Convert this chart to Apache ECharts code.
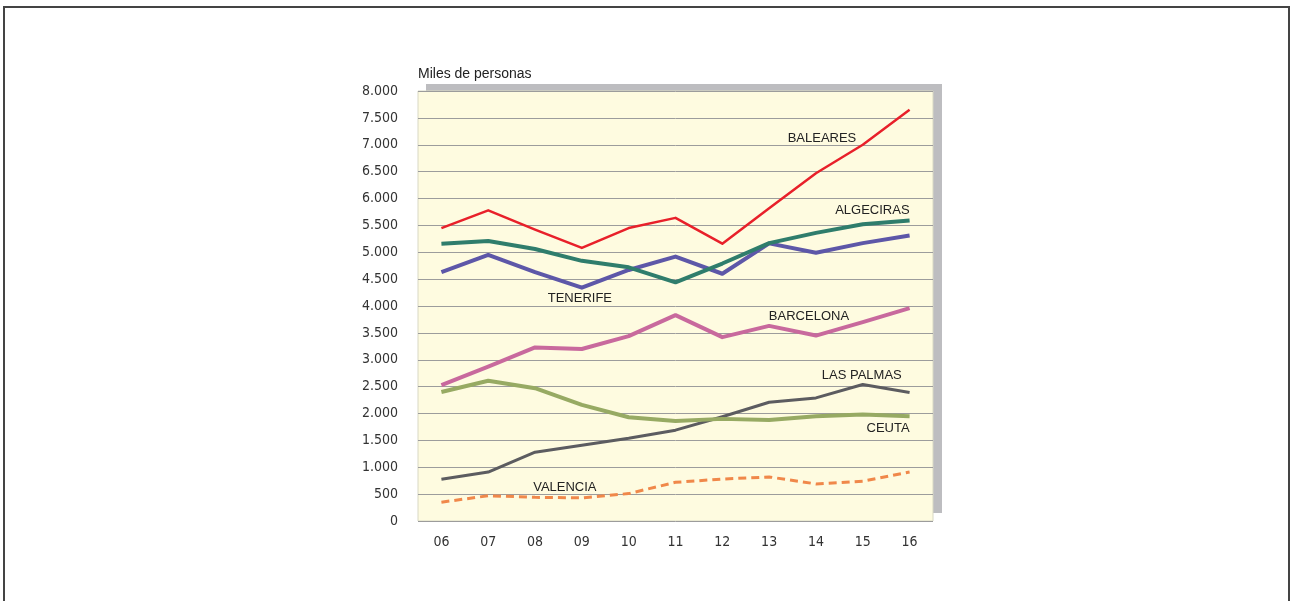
<!DOCTYPE html>
<html>
<head>
<meta charset="utf-8">
<script src="https://cdn.jsdelivr.net/npm/echarts@6/dist/echarts.min.js"></script>
<style>
html,body{margin:0;padding:0;background:#fff;}
#frame{position:absolute;left:3px;top:6px;width:1287px;height:600px;border:2px solid #444;border-bottom:none;box-sizing:border-box;}
#chart{position:absolute;left:0;top:0;width:1290px;height:601px;}
</style>
</head>
<body>
<div id="frame"></div>
<div id="chart"></div>
<script>
const years = ['06','07','08','09','10','11','12','13','14','15','16'];
const yTicks = [0,500,1000,1500,2000,2500,3000,3500,4000,4500,5000,5500,6000,6500,7000,7500,8000];
const baleares  = [5450,5780,5420,5080,5450,5640,5160,5820,6470,7000,7650];
const algeciras = [5160,5210,5060,4840,4720,4440,4790,5170,5360,5520,5590];
const tenerife  = [4630,4950,4630,4340,4670,4920,4600,5165,4990,5170,5310];
const barcelona = [2530,2870,3230,3200,3440,3830,3420,3630,3450,3700,3960];
const ceuta     = [2400,2610,2470,2160,1930,1860,1900,1880,1950,1980,1950];
const lasPalmas = [775,910,1280,1410,1540,1690,1940,2210,2290,2540,2390];
const valencia  = [350,470,440,430,510,720,780,820,690,740,910];
const seriesNames = ['BALEARES','ALGECIRAS','TENERIFE','BARCELONA','CEUTA','LAS PALMAS','VALENCIA'];

const fmt = v => v >= 1000 ? Math.floor(v/1000) + '.' + String(v%1000).padStart(3,'0') : String(v);
const narrow = '"Liberation Sans Narrow","DejaVu Sans Condensed","Liberation Sans",sans-serif';
const sans = '"Liberation Sans",Arial,sans-serif';

const chart = echarts.init(document.getElementById('chart'));
const G = {left:418, top:91, width:515, height:430};

function line(name, data, color, width, dashed){
  return {name, type:'line', data, symbol:'none', smooth:false,
    lineStyle:{color, width, type: dashed ? [8,5] : 'solid', cap:'butt', join:'round'},
    itemStyle:{color}, z:3};
}

const shadow = {type:'rect', z:-1, shape:{x:G.left+8, y:G.top-7, width:G.width+1, height:G.height-1},
                style:{fill:'#bdbdc0'}, silent:true};

chart.setOption({
  animation:false,
  backgroundColor:'transparent',
  grid:{left:G.left, top:G.top, width:G.width, height:G.height, show:true,
        backgroundColor:'#fefbe0', borderColor:'#d8d8c4', borderWidth:1},
  xAxis:{type:'category', data:years, boundaryGap:true,
    axisLine:{show:false}, axisTick:{show:false},
    axisLabel:{color:'#333', fontFamily:narrow, fontSize:14, margin:14}},
  yAxis:{type:'value', min:0, max:8000, interval:500,
    name:'Miles de personas', nameLocation:'end', nameGap:17,
    nameTextStyle:{align:'left', verticalAlign:'middle', color:'#222', fontFamily:sans, fontSize:14},
    axisLine:{show:false}, axisTick:{show:false},
    splitLine:{show:true, lineStyle:{color:'#9c9c9c', width:1}},
    axisLabel:{color:'#333', fontFamily:narrow, fontSize:14, margin:20,
      formatter: v => yTicks.includes(v) ? fmt(v) : ''}},
  graphic:[shadow],
  series:[
    line('VALENCIA', valencia, '#f0884a', 3, true),
    line('LAS PALMAS', lasPalmas, '#5c5c60', 3),
    line('CEUTA', ceuta, '#97aa63', 4),
    line('BARCELONA', barcelona, '#c8699d', 4),
    line('TENERIFE', tenerife, '#5d57a8', 4),
    line('ALGECIRAS', algeciras, '#2f7d6c', 4),
    line('BALEARES', baleares, '#e8202a', 2.5)
  ]
});

// series name annotations, anchored via the chart's own scales
const labelCat   = [8, 10, 3, 8, 10, 9, 3];
const labelVal   = [7120, 5785, 4150, 3815, 1730, 2716, 632];
const labelAlign = ['center','right','center','center','right','center','center'];
const labelDx    = [6, 0, -2, -7, 0, -1, -17];
const texts = seriesNames.map((n,i) => {
  const p = chart.convertToPixel({gridIndex:0}, [labelCat[i], labelVal[i]]);
  return {type:'text', z:10, x:p[0] + labelDx[i], y:p[1], silent:true,
    style:{text:n, fill:'#222', font:'13px ' + sans, align:labelAlign[i], verticalAlign:'middle'}};
});
chart.setOption({graphic:[shadow].concat(texts)});
</script>
</body>
</html>
